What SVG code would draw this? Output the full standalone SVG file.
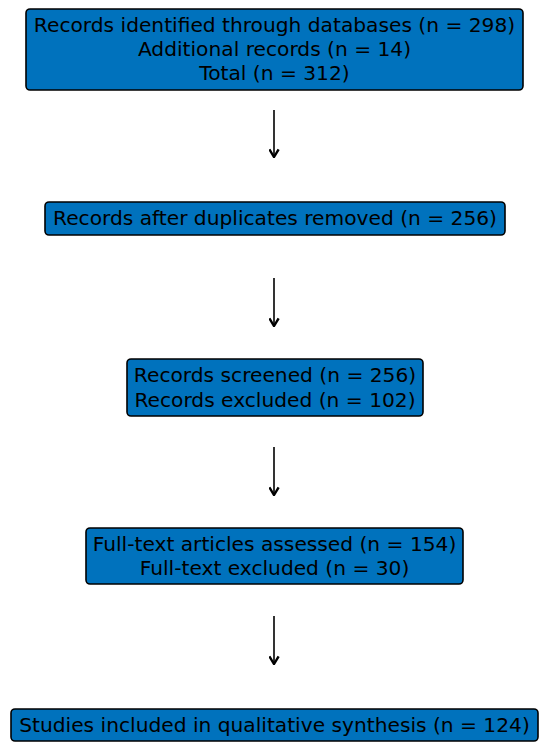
<svg xmlns="http://www.w3.org/2000/svg" width="550" height="752" viewBox="0 0 550 752">
<style>
.box{fill:#0072bd;stroke:#000;stroke-width:1.6}
.t{font-family:"DejaVu Sans",sans-serif;font-size:20.2px;fill:#000;text-anchor:middle}
.c{stroke:#000;stroke-width:1.6;fill:none}
</style>
<defs>
<marker id="ah" markerWidth="11" markerHeight="11" refX="9" refY="5" orient="auto" markerUnits="userSpaceOnUse" viewBox="0 0 10 10">
<path d="M2,0.8 L9,5 L2,9.2" fill="none" stroke="#000" stroke-width="2.2"/>
</marker>
</defs>
<rect width="550" height="752" fill="#fff"/>
<g id="connectors">
<line class="c" x1="274" y1="110" x2="274" y2="157" marker-end="url(#ah)"/>
<line class="c" x1="274" y1="278" x2="274" y2="326" marker-end="url(#ah)"/>
<line class="c" x1="274" y1="447" x2="274" y2="495" marker-end="url(#ah)"/>
<line class="c" x1="274" y1="616" x2="274" y2="664" marker-end="url(#ah)"/>
</g>
<g id="n1">
<rect class="box" x="26" y="9" width="497" height="81" rx="4"/>
<text class="t" x="274.5" y="32">Records identified through databases (n = 298)</text>
<text class="t" x="274.5" y="56">Additional records (n = 14)</text>
<text class="t" x="274.5" y="80">Total (n = 312)</text>
</g>
<g id="n2">
<rect class="box" x="45" y="202" width="460" height="33" rx="4"/>
<text class="t" x="275" y="225">Records after duplicates removed (n = 256)</text>
</g>
<g id="n3">
<rect class="box" x="127" y="359" width="296" height="57" rx="4"/>
<text class="t" x="275" y="382">Records screened (n = 256)</text>
<text class="t" x="275" y="407">Records excluded (n = 102)</text>
</g>
<g id="n4">
<rect class="box" x="86" y="528" width="377" height="56" rx="4"/>
<text class="t" x="274.5" y="551">Full-text articles assessed (n = 154)</text>
<text class="t" x="274.5" y="575">Full-text excluded (n = 30)</text>
</g>
<g id="n5">
<rect class="box" x="11" y="709" width="527" height="32" rx="4"/>
<text class="t" x="274.5" y="732">Studies included in qualitative synthesis (n = 124)</text>
</g>
</svg>
